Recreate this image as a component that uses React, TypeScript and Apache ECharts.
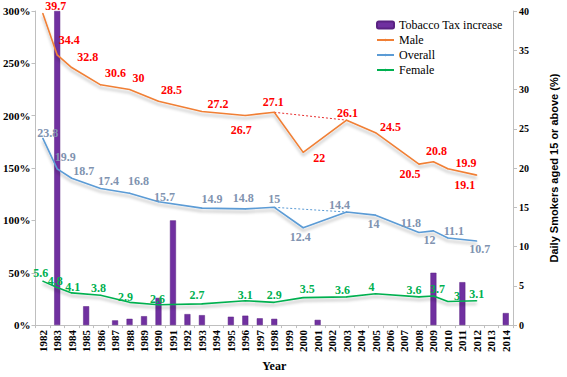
import React, { useEffect, useRef } from "react";
import * as echarts from "echarts";

const years = [
  "1982","1983","1984","1985","1986","1987","1988","1989","1990","1991","1992",
  "1993","1994","1995","1996","1997","1998","1999","2000","2001","2002","2003",
  "2004","2005","2006","2007","2008","2009","2010","2011","2012","2013","2014",
];

const surveyYears = ["1982","1983","1984","1986","1988","1990","1993","1996","1998","2000","2003","2005","2008","2009","2010","2012"];
const maleValues = [39.7, 34.4, 32.8, 30.6, 30, 28.5, 27.2, 26.7, 27.1, 22, 26.1, 24.5, 20.5, 20.8, 19.9, 19.1];
const overallValues = [23.8, 19.9, 18.7, 17.4, 16.8, 15.7, 14.9, 14.8, 15, 12.4, 14.4, 14, 11.8, 12, 11.1, 10.7];
const femaleValues = [5.6, 4.8, 4.1, 3.8, 2.9, 2.6, 2.7, 3.1, 2.9, 3.5, 3.6, 4, 3.6, 3.7, 3, 3.1];

const taxYears = ["1983","1985","1987","1988","1989","1990","1991","1992","1993","1995","1996","1997","1998","2001","2009","2011","2014"];
const taxIncrease = [300, 18, 4.5, 6, 8.5, 26, 100, 10.5, 9.5, 8, 9, 6.5, 6, 5, 50, 41, 11.5];

const trendYears = ["1998", "2003"];
const maleTrend = [27.1, 26.1];
const overallTrend = [15, 14.4];

const leftTicks = [0, 300, 50];
const rightTicks = [0, 40, 5];

// label offsets (dx, dy) relative to point, layout only
const maleLabelOffsets = [[13,-7],[12,-15],[16,-11],[15,-12],[9,-12],[13,-11],[16,-8],[-4,15],[-1,-10],[16,6],[1,-7],[15,-6],[-9,10],[3,-11],[18,-6],[-12,10]];
const overallLabelOffsets = [[5,-5],[8,-12],[12,-7],[8,-7],[9,-12],[6,-5],[10,-9],[-2,-11],[0,-8],[-3,9],[-7,-7],[-2,9],[-8,-9],[-4,9],[6,-7],[3,8]];
const femaleLabelOffsets = [[-2,-8],[-2,-6],[1,-6],[-2,-7],[-4,-5],[-1,-6],[-5,-9],[0,-6],[0,-7],[4,-9],[-4,-7],[-4,-7],[-5,-7],[4,-7],[9,-6],[0,-7]];

const SERIF = "Liberation Serif";

function fill(keys: string[], vals: number[]) {
  return years.map((y) => {
    const i = keys.indexOf(y);
    return i >= 0 ? vals[i] : null;
  });
}

function labeled(vals: number[], offsets: number[][]) {
  return years.map((y) => {
    const i = surveyYears.indexOf(y);
    if (i < 0) return null;
    return { value: vals[i], label: { offset: offsets[i] } };
  });
}

export default function App() {
  const ref = useRef<HTMLDivElement>(null);
  useEffect(() => {
    if (!ref.current) return;
    const chart = echarts.init(ref.current, null, { renderer: "svg" });
    const lineCommon = (color: string, labelColor: string) => ({
      type: "line",
      yAxisIndex: 1,
      connectNulls: true,
      symbol: "circle",
      symbolSize: 1,
      showSymbol: true,
      itemStyle: { color },
      lineStyle: {
        color,
        width: 1.6,
        shadowColor: "rgba(0,0,0,0.28)",
        shadowBlur: 3,
        shadowOffsetY: 3,
      },
      label: {
        show: true,
        position: "inside",
        color: labelColor,
        fontFamily: SERIF,
        fontWeight: "bold",
        fontSize: 12,
      },
      emphasis: { disabled: true },
      z: 3,
    });
    const legendText = { fontFamily: SERIF, fontSize: 12, color: "#000", lineHeight: 14 };
    chart.setOption({
      animation: false,
      grid: { left: 33, right: 40, top: 11, bottom: 42 },
      legend: [
        {
          orient: "vertical",
          left: 376,
          top: 18,
          padding: 0,
          itemWidth: 17,
          itemHeight: 7,
          itemGap: 1,
          data: ["Tobacco Tax increase"],
          textStyle: legendText,
        },
        {
          orient: "vertical",
          left: 376,
          top: 33,
          padding: 0,
          itemWidth: 17,
          itemHeight: 3,
          itemGap: 1,
          data: ["Male", "Overall", "Female"],
          textStyle: legendText,
        },
      ],
      xAxis: {
        type: "category",
        data: years,
        boundaryGap: true,
        name: "Year",
        nameLocation: "middle",
        nameGap: 30,
        nameTextStyle: { fontFamily: SERIF, fontWeight: "bold", fontSize: 12, color: "#000" },
        axisLine: { lineStyle: { color: "#bfbfbf", width: 1 } },
        axisTick: { show: true, length: 3, lineStyle: { color: "#bfbfbf" } },
        axisLabel: {
          rotate: 90,
          interval: 0,
          margin: 5,
          fontFamily: SERIF,
          fontWeight: "bold",
          fontSize: 11,
          color: "#000",
        },
      },
      yAxis: [
        {
          type: "value",
          min: leftTicks[0],
          max: leftTicks[1],
          interval: leftTicks[2],
          splitLine: { show: false },
          axisLine: { show: true, lineStyle: { color: "#bfbfbf" } },
          axisTick: { show: true, length: 4, lineStyle: { color: "#bfbfbf" } },
          axisLabel: {
            formatter: "{value}%",
            margin: 5,
            fontFamily: SERIF,
            fontWeight: "bold",
            fontSize: 11,
            color: "#000",
          },
        },
        {
          type: "value",
          position: "right",
          min: rightTicks[0],
          max: rightTicks[1],
          interval: rightTicks[2],
          splitLine: { show: false },
          axisLine: { show: true, lineStyle: { color: "#bfbfbf" } },
          axisTick: { show: true, length: 4, lineStyle: { color: "#bfbfbf" } },
          axisLabel: {
            margin: 6,
            fontFamily: SERIF,
            fontWeight: "bold",
            fontSize: 10,
            color: "#000",
          },
          name: "Daily Smokers aged 15 or above (%)",
          nameLocation: "middle",
          nameRotate: 90,
          nameGap: 35,
          nameTextStyle: {
            fontFamily: "Liberation Sans",
            fontWeight: "bold",
            fontSize: 11,
            color: "#000",
          },
        },
      ],
      series: [
        {
          name: "Tobacco Tax increase",
          type: "bar",
          yAxisIndex: 0,
          barWidth: 6,
          data: fill(taxYears, taxIncrease),
          itemStyle: { color: "#7030a0", borderColor: "#5a2282", borderWidth: 0.5 },
          z: 2,
        },
        {
          name: "Male trend",
          type: "line",
          yAxisIndex: 1,
          connectNulls: true,
          symbol: "none",
          silent: true,
          data: fill(trendYears, maleTrend),
          lineStyle: { color: "#e83030", width: 1, type: [2, 2] },
          z: 2,
        },
        {
          name: "Overall trend",
          type: "line",
          yAxisIndex: 1,
          connectNulls: true,
          symbol: "none",
          silent: true,
          data: fill(trendYears, overallTrend),
          lineStyle: { color: "#5b9bd5", width: 1, type: [2, 2] },
          z: 2,
        },
        { name: "Male", ...lineCommon("#f07f35", "#ff0000"), data: labeled(maleValues, maleLabelOffsets) },
        { name: "Overall", ...lineCommon("#5b9bd5", "#8093b0"), data: labeled(overallValues, overallLabelOffsets) },
        { name: "Female", ...lineCommon("#00b050", "#00b050"), data: labeled(femaleValues, femaleLabelOffsets) },
      ],
    });
    return () => chart.dispose();
  }, []);
  return (
    <div
      ref={ref}
      style={{ position: "fixed", left: 0, top: 0, width: 567, height: 377, background: "#fff" }}
    />
  );
}
